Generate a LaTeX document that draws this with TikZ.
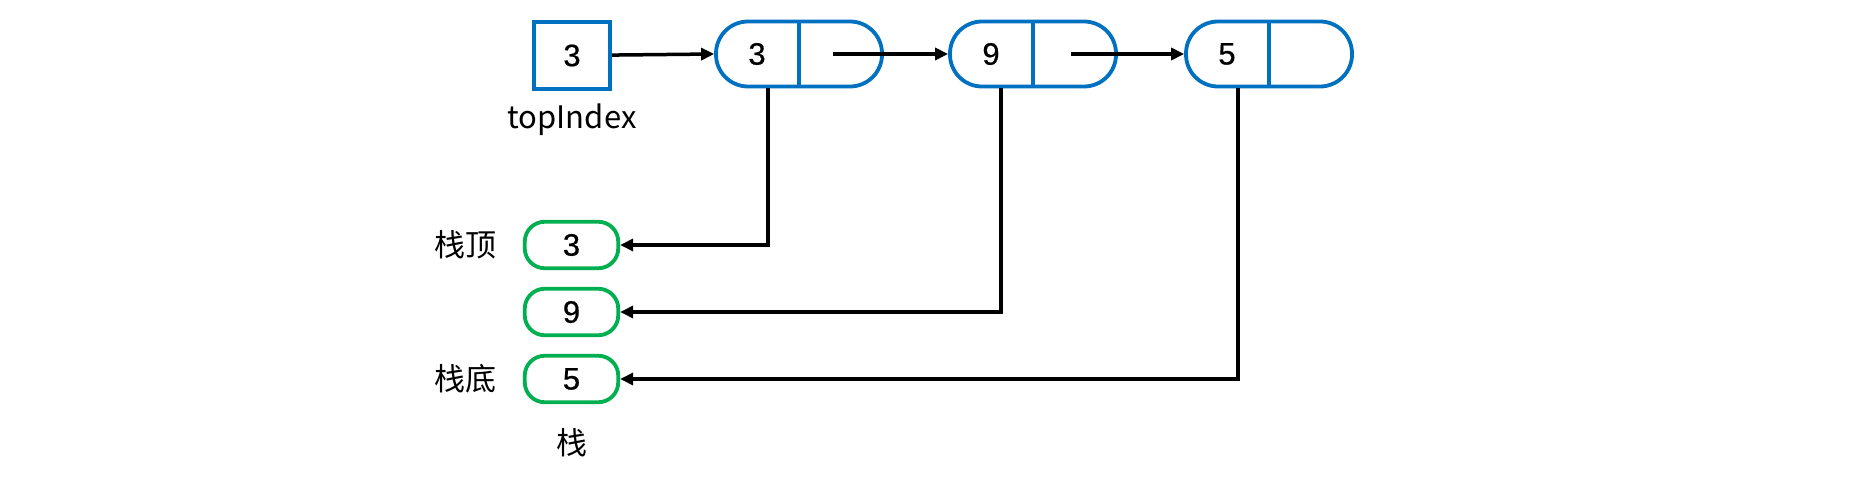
\documentclass[tikz,border=0pt]{standalone}
\usepackage{fontspec}
\setmainfont{Liberation Sans}[BoldFont=Liberation Sans, BoldFeatures={FakeBold=0.6}]
\newfontfamily\cjk{Noto Sans CJK SC}
\usetikzlibrary{arrows.meta}
\definecolor{nodeblue}{HTML}{0070C0}
\definecolor{stackgreen}{HTML}{00B050}

\begin{document}
\begin{tikzpicture}[x=1pt, y=-1pt,
    >={Triangle[length=13pt, width=12pt]},
    every path/.style={line width=3.5pt},
    num/.style={font=\fontsize{31}{36}\selectfont\bfseries},
    txt/.style={font=\cjk\fontsize{31}{36}\selectfont},
    box/.style={draw=nodeblue, line width=3.8pt, minimum width=76.5pt, minimum height=67.5pt, inner sep=0pt},
    link/.style={draw=nodeblue, line width=3.8pt, rounded corners=32pt, minimum width=166pt, minimum height=65pt, inner sep=0pt},
    slot/.style={draw=stackgreen, line width=3.8pt, rounded corners=20pt, minimum width=93.5pt, minimum height=46.5pt, inner sep=0pt, num}]
    \useasboundingbox (0,0) rectangle (1852,481);
    \node[box, num](top)   at (572,55.5) {3};
    \node[txt]             at (572,120) {topIndex};
    \node[link](l*1)       at (799,54) {};
    \node[link](l*2)       at (1033,54) {};
    \node[link](l*3)       at (1269,54) {};
    \node[num] at ([xshift=-42pt]l*1.center) {3};
    \node[num] at ([xshift=-42pt]l*2.center) {9};
    \node[num] at ([xshift=-42pt]l*3.center) {5};
    \foreach \n in {1,2,3}
        \draw[nodeblue, line width=3.8pt] (l*\n.north) -- (l*\n.south);
    % Stack
    \node[slot](s*0)       at (571.5,245) {3};
    \node[slot](s*1)       at (571.5,312) {9};
    \node[slot](s*2)       at (571.5,379) {5};
    \node[txt]             at (465,245) {栈顶};
    \node[txt]             at (465,379) {栈底};
    \node[txt]             at (572,443) {栈};
    % Links
    \draw[->] (top) -- (l*1.west);
    \draw[->] ([xshift=34pt]l*1.center) -- (l*2.west);
    \draw[->] ([xshift=38pt]l*2.center) -- (l*3.west);
    \draw[->] ([xshift=-31pt]l*1.south) |- (s*0.east);
    \draw[->] ([xshift=-32pt]l*2.south) |- (s*1.east);
    \draw[->] ([xshift=-31pt]l*3.south) |- (s*2.east);
\end{tikzpicture}
\end{document}
